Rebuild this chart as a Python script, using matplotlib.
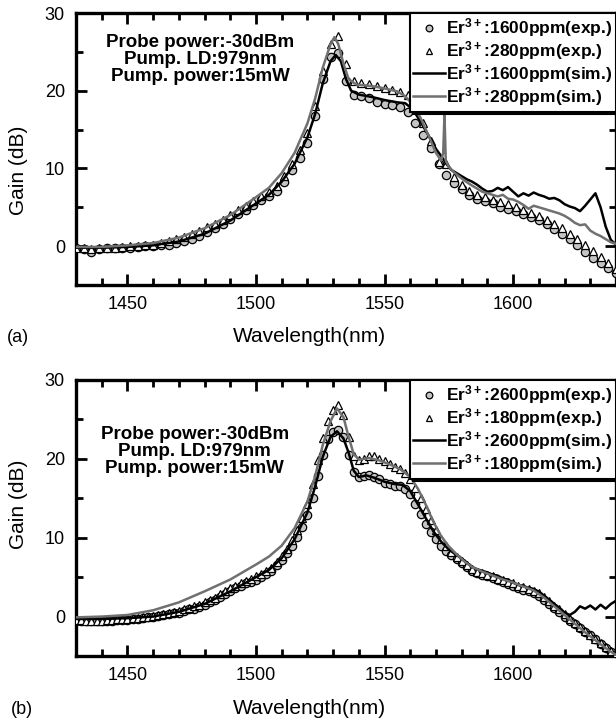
import numpy as np
import matplotlib
matplotlib.use("Agg")
import matplotlib.pyplot as plt

plt.rcParams['font.family'] = ['Liberation Sans', 'DejaVu Sans']
plt.rcParams['mathtext.fontset'] = 'custom'
plt.rcParams['mathtext.rm'] = 'Liberation Sans'
plt.rcParams['mathtext.bf'] = 'Liberation Sans:bold'
plt.rcParams['mathtext.default'] = 'bf'

# ---------- (a) ----------
a_wl_exp = np.arange(1430, 1641, 3)
a_exp1600 = [-0.3, -0.4, -0.7, -0.4, -0.3, -0.3, -0.2, -0.2, -0.1, 0.0,
             0.0, 0.1, 0.2, 0.4, 0.6, 0.9, 1.3, 1.8, 2.3, 2.9,
             3.5, 4.1, 4.7, 5.3, 5.9, 6.5, 7.1, 8.2, 9.8, 11.4,
             13.3, 16.8, 21.5, 24.3, 24.9, 21.2, 19.5, 19.3, 19.0, 18.6,
             18.3, 18.1, 17.9, 17.2, 15.8, 14.3, 12.6, 10.6, 9.2, 8.1,
             7.3, 6.6, 6.1, 5.8, 5.5, 5.1, 4.8, 4.5, 4.1, 3.7,
             3.3, 2.8, 2.2, 1.6, 0.9, 0.1, -0.7, -1.5, -2.2, -2.8,
             -3.4]
a_exp280 = [-0.2, -0.3, -0.4, -0.3, -0.2, -0.2, -0.1, 0.0, 0.0, 0.1,
            0.2, 0.4, 0.6, 0.9, 1.2, 1.5, 1.9, 2.4, 2.9, 3.4,
            4.0, 4.6, 5.2, 5.8, 6.4, 7.0, 7.8, 9.0, 10.6, 12.4,
            14.6, 18.0, 22.5, 26.0, 27.0, 23.5, 21.2, 21.0, 20.8, 20.6,
            20.4, 20.1, 19.8, 19.4, 18.0, 15.8, 13.5, 10.8, 10.6, 8.9,
            7.9, 7.1, 6.6, 6.3, 6.0, 5.7, 5.4, 5.0, 4.7, 4.3,
            3.9, 3.4, 2.9, 2.3, 1.6, 0.9, 0.2, -0.6, -1.4, -2.2,
            -2.9]

a_wl_sim1600 = [1430, 1440, 1450, 1460, 1470, 1480, 1490, 1500, 1505, 1510,
                1515, 1520, 1523, 1526, 1529, 1531, 1533, 1535, 1537, 1540,
                1545, 1550, 1555, 1558, 1561, 1564, 1567, 1570, 1572, 1574,
                1576, 1578, 1580, 1582, 1584, 1586, 1588, 1590, 1592, 1594,
                1596, 1598, 1600, 1602, 1604, 1606, 1608, 1610, 1612, 1614,
                1616, 1618, 1620, 1622, 1624, 1626, 1628, 1630, 1632, 1634,
                1636, 1638, 1640]
a_sim1600 = [-0.2, -0.2, -0.1, 0.1, 0.6, 1.6, 3.3, 5.5, 6.6, 8.3,
             10.6, 14.0, 17.0, 21.0, 23.8, 24.6, 23.8, 21.5, 20.0, 19.5,
             19.2, 18.8, 18.5, 18.4, 17.6, 16.0, 14.3, 12.5, 11.6, 10.6,
             9.8, 9.4, 9.0, 8.6, 8.3, 7.9, 7.4, 7.0, 7.1, 7.5,
             7.2, 7.6, 7.0, 6.4, 6.8, 6.5, 6.9, 6.6, 6.4, 6.1,
             6.2, 5.9, 5.4, 5.1, 4.9, 4.5, 5.2, 6.0, 6.8, 5.0,
             2.5, 0.8, 0.2]

a_wl_sim280 = [1430, 1440, 1450, 1460, 1470, 1480, 1490, 1500, 1505, 1510,
               1515, 1520, 1523, 1526, 1529, 1530.5, 1532, 1534, 1536, 1539,
               1545, 1550, 1555, 1558, 1561, 1564, 1567, 1570, 1572, 1572.8,
               1573.3, 1573.8, 1575, 1577, 1580, 1583, 1586, 1588, 1590, 1592,
               1594, 1596, 1598, 1600, 1602, 1604, 1606, 1608, 1610, 1612,
               1614, 1616, 1618, 1620, 1622, 1624, 1626, 1628, 1630, 1632,
               1634, 1636, 1638, 1640]
a_sim280 = [-0.1, -0.1, 0.1, 0.4, 1.1, 2.3, 4.0, 6.3, 7.5, 9.4,
            12.0, 15.8, 19.0, 23.0, 26.0, 26.9, 26.0, 23.5, 21.5, 20.8,
            20.6, 20.3, 19.9, 19.3, 18.2, 16.5, 14.3, 12.0, 11.0, 12.0,
            16.9, 11.0, 10.2, 9.5, 8.7, 8.0, 7.4, 7.0, 6.8, 6.6,
            6.4, 6.6, 6.1, 6.0, 5.7, 5.3, 4.8, 5.2, 5.0, 4.8,
            4.6, 4.4, 4.2, 3.9, 3.5, 3.0, 2.7, 2.8, 2.0, 1.6,
            1.3, 0.9, 0.5, 0.3]

# ---------- (b) ----------
b_wl_exp = np.arange(1430, 1641, 2)
b_exp2600 = [-0.5, -0.5, -0.6, -0.6, -0.6, -0.6, -0.5, -0.5, -0.4, -0.4,
             -0.4, -0.3, -0.3, -0.2, -0.1, 0.0, 0.1, 0.2, 0.3, 0.4,
             0.5, 0.7, 0.9, 1.0, 1.2, 1.5, 1.8, 2.1, 2.5, 2.9,
             3.3, 3.6, 3.9, 4.2, 4.4, 4.7, 5.0, 5.4, 5.8, 6.5,
             7.2, 8.0, 9.0, 10.1, 11.4, 12.9, 15.0, 17.8, 20.5, 22.5,
             23.4, 23.6, 22.8, 20.5, 18.3, 17.7, 17.8, 17.9, 17.7, 17.4,
             17.0, 16.8, 16.6, 16.5, 16.2, 15.5, 14.3, 13.0, 11.8, 10.7,
             9.8, 9.0, 8.3, 7.8, 7.3, 6.8, 6.3, 5.8, 5.5, 5.3,
             5.1, 4.9, 4.6, 4.4, 4.1, 3.9, 3.6, 3.4, 3.2, 3.0,
             2.6, 2.1, 1.6, 1.1, 0.6, 0.0, -0.5, -0.9, -1.4, -1.9,
             -2.4, -2.9, -3.5, -4.0, -4.5, -4.9]
b_exp180 = [-0.4, -0.4, -0.5, -0.5, -0.5, -0.5, -0.4, -0.4, -0.3, -0.3,
            -0.3, -0.2, -0.2, -0.1, 0.0, 0.1, 0.2, 0.3, 0.4, 0.6,
            0.7, 0.9, 1.1, 1.3, 1.5, 1.8, 2.1, 2.4, 2.8, 3.2,
            3.6, 3.9, 4.2, 4.5, 4.8, 5.1, 5.4, 5.8, 6.2, 6.9,
            7.7, 8.6, 9.7, 11.0, 12.5, 14.3, 16.8, 19.8, 22.7, 24.8,
            26.2, 26.8, 25.5, 22.8, 20.3, 19.8, 20.0, 20.4, 20.3, 20.0,
            19.7, 19.3, 19.0, 18.7, 18.2, 17.4, 16.3, 15.0, 13.7, 12.3,
            11.0, 9.8, 8.9, 8.2, 7.6, 7.0, 6.5, 6.0, 5.7, 5.5,
            5.3, 5.1, 4.8, 4.6, 4.4, 4.2, 3.9, 3.7, 3.5, 3.3,
            3.0, 2.5, 2.0, 1.4, 0.9, 0.3, -0.3, -0.8, -1.3, -1.8,
            -2.3, -2.8, -3.3, -3.9, -4.4, -4.8]

b_wl_sim2600 = [1430, 1440, 1450, 1460, 1470, 1480, 1490, 1500, 1505, 1510,
                1515, 1520, 1523, 1526, 1529, 1531.5, 1534, 1536, 1538, 1540,
                1543, 1546, 1550, 1554, 1557, 1560, 1563, 1566, 1569, 1572,
                1575, 1578, 1581, 1584, 1586, 1588, 1590, 1592, 1594, 1596,
                1598, 1600, 1602, 1604, 1606, 1608, 1610, 1612, 1614, 1616,
                1618, 1620, 1622, 1624, 1626, 1628, 1630, 1632, 1634, 1636,
                1638, 1640]
b_sim2600 = [-0.3, -0.3, -0.2, 0.0, 0.6, 1.6, 3.2, 5.0, 5.9, 7.4,
             9.8, 13.2, 16.5, 20.3, 22.8, 23.5, 22.6, 20.8, 18.5, 17.7,
             17.9, 17.6, 17.1, 16.8, 16.7, 15.9, 14.2, 12.5, 10.8, 9.5,
             8.5, 7.8, 7.1, 6.3, 6.0, 5.8, 5.6, 5.3, 5.2, 4.8,
             4.7, 4.3, 4.0, 3.9, 3.6, 3.5, 3.1, 2.6, 2.1, 1.6,
             1.0, 0.5, 0.2, 0.6, 1.3, 1.0, 1.4, 0.9, 1.5, 1.0,
             1.6, 2.0]

b_wl_sim180 = [1430, 1440, 1450, 1455, 1460, 1470, 1480, 1490, 1500, 1505,
               1510, 1515, 1520, 1523, 1526, 1529, 1531.5, 1534, 1536, 1538,
               1540, 1544, 1548, 1552, 1556, 1560, 1563, 1566, 1569, 1572,
               1575, 1578, 1581, 1584, 1588, 1592, 1596, 1600, 1604, 1608,
               1612, 1616, 1620, 1624, 1628, 1632, 1636, 1640]
b_sim180 = [-0.1, 0.0, 0.2, 0.5, 0.8, 1.8, 3.2, 4.7, 6.6, 7.6,
            9.0, 11.2, 14.6, 17.8, 21.8, 24.8, 26.4, 25.3, 22.8, 20.6,
            19.9, 20.1, 19.8, 19.3, 18.7, 17.7, 16.2, 14.2, 12.0, 10.2,
            8.9, 7.9, 7.0, 6.3, 5.7, 5.2, 4.7, 4.3, 3.8, 3.3,
            2.4, 1.3, 0.2, -0.9, -2.0, -3.0, -4.0, -4.9]

note = "Probe power:-30dBm\nPump. LD:979nm\nPump. power:15mW"
gray = '#707070'


def draw(ax, wl_exp, exp_hi, exp_lo, wl_s1, s1, wl_s2, s2, labels):
    ax.plot(wl_exp, exp_hi, 'o', ms=6, mfc='#c4c4c4', mec='black', mew=0.9,
            label=labels[0], zorder=3)
    ax.plot(wl_exp, exp_lo, '^', ms=6, mfc='white', mec='black', mew=0.9,
            label=labels[1], zorder=3)
    ax.plot(wl_s1, s1, '-', color='black', lw=1.8, label=labels[2], zorder=4)
    ax.plot(wl_s2, s2, '-', color=gray, lw=1.8, label=labels[3], zorder=4)
    ax.set_xlim(1430, 1640)
    ax.set_ylim(-5, 30)
    ax.set_xticks([1450, 1500, 1550, 1600])
    ax.set_xticks(np.arange(1440, 1641, 10), minor=True)
    ax.set_yticks([0, 10, 20, 30])
    ax.set_yticks([-5, 5, 15, 25], minor=True)
    ax.tick_params(which='both', direction='in', top=True, right=True,
                   labelsize=13, width=2)
    ax.tick_params(which='major', length=8, pad=8)
    ax.tick_params(which='minor', length=5)
    for s in ax.spines.values():
        s.set_linewidth(2.4)
    ax.set_xlabel('Wavelength(nm)', fontsize=15)
    ax.set_ylabel('Gain (dB)', fontsize=15)
    leg = ax.legend(loc='upper right', bbox_to_anchor=(1.0, 1.0),
                    prop={'weight': 'bold', 'size': 12.5},
                    handlelength=1.8, handletextpad=0.1, labelspacing=0.0,
                    borderpad=0.2, borderaxespad=0.0, fancybox=False,
                    shadow={'color': 'black', 'alpha': 1.0},
                    markerscale=0.8)
    leg.get_frame().set_edgecolor('black')
    leg.get_frame().set_linewidth(1.5)


fig = plt.figure(figsize=(6.16, 7.25), dpi=100)
ax1 = fig.add_axes([76 / 616, 1 - 285 / 725, 540 / 616, 272 / 725])
ax2 = fig.add_axes([76 / 616, 1 - 656 / 725, 540 / 616, 276 / 725])

draw(ax1, a_wl_exp, a_exp1600, a_exp280, a_wl_sim1600, a_sim1600,
     a_wl_sim280, a_sim280,
     ['Er$^{3+}$:1600ppm(exp.)', 'Er$^{3+}$:280ppm(exp.)',
      'Er$^{3+}$:1600ppm(sim.)', 'Er$^{3+}$:280ppm(sim.)'])
draw(ax2, b_wl_exp, b_exp2600, b_exp180, b_wl_sim2600, b_sim2600,
     b_wl_sim180, b_sim180,
     ['Er$^{3+}$:2600ppm(exp.)', 'Er$^{3+}$:180ppm(exp.)',
      'Er$^{3+}$:2600ppm(sim.)', 'Er$^{3+}$:180ppm(sim.)'])

ax1.text(0.23, 0.83, note, transform=ax1.transAxes, ha='center', va='center',
         fontsize=13.5, fontweight='bold', linespacing=1.0)
ax2.text(0.22, 0.74, note, transform=ax2.transAxes, ha='center', va='center',
         fontsize=13.5, fontweight='bold', linespacing=1.0)

ax1.xaxis.set_label_coords(0.433, -0.155)
ax2.xaxis.set_label_coords(0.433, -0.155)
ax1.yaxis.set_label_coords(-0.088, 0.42)
ax2.yaxis.set_label_coords(-0.088, 0.55)

fig.text(18 / 616, 1 - 338 / 725, '(a)', fontsize=13, ha='center', va='center')
fig.text(22 / 616, 1 - 710 / 725, '(b)', fontsize=13, ha='center', va='center')

fig.savefig('out.png', dpi=100)
